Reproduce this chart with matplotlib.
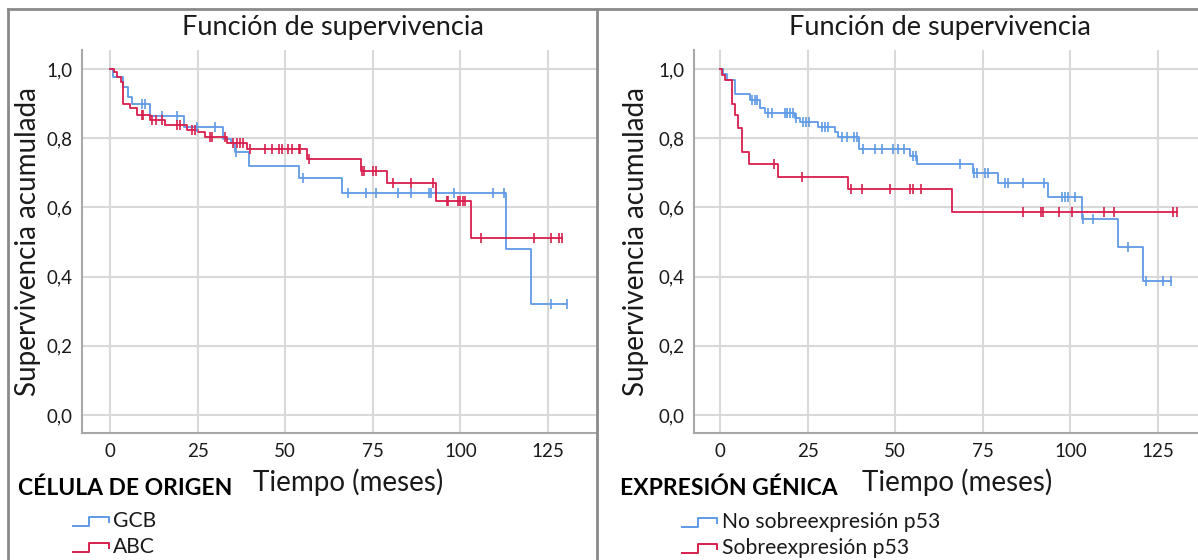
import numpy as np
import matplotlib
matplotlib.use('Agg')
import matplotlib.pyplot as plt
from matplotlib.lines import Line2D
from matplotlib.ticker import FuncFormatter

plt.rcParams['font.family'] = ['Lato', 'DejaVu Sans']

# ---------------- data ----------------
title_text = "Función de supervivencia"
ylabel_text = "Supervivencia acumulada"
xlabel_text = "Tiempo (meses)"
xticks = [0, 25, 50, 75, 100, 125]
yticks = [0.0, 0.2, 0.4, 0.6, 0.8, 1.0]

# Left panel: célula de origen
left_legend_title = "CÉLULA DE ORIGEN"
left_labels = ["GCB", "ABC"]

gcb_t = [0.9, 3.8, 5.2, 6.2, 11.4, 21.1, 32.2, 34.5, 35.7, 39.8, 54.0, 66.1, 113.0, 120.3]
gcb_s = [0.978, 0.949, 0.92, 0.898, 0.865, 0.833, 0.797, 0.785, 0.761, 0.72, 0.684, 0.643, 0.48, 0.321]
gcb_c = [9, 10, 14.7, 19, 24.7, 30, 36, 55, 68, 73, 76, 82.1, 86, 91.1, 91.7, 98.3,
         109.2, 112.4, 126, 130.3]

abc_t = [1.0, 2.0, 3.0, 3.8, 5.7, 7.6, 11.4, 15.7, 21.9, 25.0, 27.1, 33.3, 39.0,
         56.2, 71.5, 79.0, 93.1, 103.0]
abc_s = [0.99, 0.978, 0.963, 0.90, 0.886, 0.867, 0.853, 0.838, 0.824, 0.817, 0.804,
         0.785, 0.768, 0.739, 0.706, 0.67, 0.618, 0.513]
abc_c = [9, 9.5, 12, 13, 14.7, 19, 20, 23.3, 24.3, 28.6, 29, 32.9, 35.2, 36.1, 37, 38,
         40, 44.3, 46.2, 48.1, 49.1, 50.9, 51.9, 53.8, 54.3, 56.9, 71.9, 72.4, 75.2, 76,
         80.9, 85.9, 92.1, 96.1, 96.6, 99.2, 100, 100.8, 101.2, 106, 121, 126, 128.2, 129.1]

# Right panel: expresión génica
right_legend_title = "EXPRESIÓN GÉNICA"
right_labels = ["No sobreexpresión p53", "Sobreexpresión p53"]

nop_t = [0.8, 1.9, 4.3, 8.6, 11.4, 12.8, 21.4, 22.9, 28.1, 32.9, 33.8, 39.8, 54.3,
         56.3, 72.1, 79.4, 93.5, 103.4, 113.7, 120.6]
nop_s = [0.985, 0.968, 0.927, 0.91, 0.886, 0.872, 0.858, 0.848, 0.832, 0.819, 0.803,
         0.769, 0.75, 0.725, 0.70, 0.672, 0.631, 0.566, 0.486, 0.388]
nop_c = [9, 10, 10.7, 13.8, 14.8, 18.6, 19.2, 20, 20.9, 21.6, 23.8, 24.6, 25.5, 29, 30,
         30.7, 34.7, 36.2, 38.1, 39.1, 40.8, 44.3, 46.2, 49.5, 50.9, 52.4, 55.2, 56,
         68.5, 72.5, 73.4, 75.6, 76.6, 81.3, 82.3, 86.6, 92.5, 97.5, 98.5, 99.4, 101.3,
         103.5, 106.5, 116.5, 121.6, 126.5, 128.6]

p53_t = [0.5, 1.4, 3.3, 4.3, 5.2, 6.2, 8.4, 16.5, 36.4, 66.3]
p53_s = [0.984, 0.968, 0.90, 0.867, 0.829, 0.761, 0.725, 0.689, 0.652, 0.588]
p53_c = [15.4, 23.3, 37.3, 40.4, 48.5, 54.2, 55, 57.3, 86.6, 91.5, 92.3, 96.6, 100.5,
         109.6, 112.5, 129.4, 130.5]

BLUE = '#5f9ae6'
RED = '#d81e4c'
TXT = '#1a1a1a'

# ---------------- figure ----------------
W, H = 1198, 560
fig = plt.figure(figsize=(W / 100, H / 100), dpi=100)


def fx(x):
    return x / W


def fy(y):
    return 1 - y / H


def px_axes(x0, y0, x1, y1):
    return fig.add_axes([fx(x0), fy(y1), (x1 - x0) / W, (y1 - y0) / H])


def km(ax, t, s, cens, color):
    t = np.asarray(t, float)
    s = np.asarray(s, float)
    cens = np.asarray(cens, float)
    end = cens.max()
    tt = np.concatenate([[0.0], t, [end]])
    ss = np.concatenate([[1.0], s, [s[-1]]])
    ax.step(tt, ss, where='post', color=color, lw=1.3, zorder=3)
    idx = np.searchsorted(t, cens, side='right')
    sv = np.concatenate([[1.0], s])[idx]
    ax.plot(cens, sv, ls='none', marker='|', ms=7, mew=1.2, color=color, zorder=4)


def style(ax, xlim):
    ax.set_xlim(*xlim)
    ax.set_ylim(-0.052, 1.055)
    ax.set_xticks(xticks)
    ax.set_yticks(yticks)
    ax.yaxis.set_major_formatter(FuncFormatter(lambda v, p: f"{v:.1f}".replace('.', ',')))
    ax.grid(True, color='#d9d9d9', lw=1.5)
    ax.set_axisbelow(True)
    ax.tick_params(length=0, labelsize=13.5, pad=7, colors=TXT)
    for sp in ('top', 'right'):
        ax.spines[sp].set_visible(False)
    for sp in ('left', 'bottom'):
        ax.spines[sp].set_color('#a8a8a8')
        ax.spines[sp].set_linewidth(1.5)
    ax.patch.set_alpha(0)


def legend_icon(x0, x1, yc, color):
    xm = x0 + (x1 - x0) * 0.45
    xs = [x0, xm, xm, x1, x1]
    ys = [yc + 5, yc + 5, yc - 4, yc - 4, yc + 1]
    fig.add_artist(Line2D([fx(v) for v in xs], [fy(v) for v in ys],
                          color=color, lw=1.4, transform=fig.transFigure))


# Left panel
axL = px_axes(82, 50, 597, 433)
km(axL, gcb_t, gcb_s, gcb_c, BLUE)
km(axL, abc_t, abc_s, abc_c, RED)
style(axL, (-8.0, 139.0))

# Right panel
axR = px_axes(694, 50, 1198, 433)
km(axR, nop_t, nop_s, nop_c, BLUE)
km(axR, p53_t, p53_s, p53_c, RED)
style(axR, (-7.42, 136.4))

# Titles and labels
for cx in (333, 940):
    fig.text(fx(cx), fy(28), title_text, ha='center', va='center', fontsize=19.5, color=TXT)
for cx in (28, 636):
    fig.text(fx(cx), fy(242), ylabel_text, ha='center', va='center', rotation=90,
             fontsize=20, color=TXT)
for cx in (348, 957):
    fig.text(fx(cx), fy(482), xlabel_text, ha='center', va='center', fontsize=20, color=TXT)

# Legends
fig.text(fx(18), fy(488), left_legend_title, ha='left', va='center', fontsize=16.5,
         fontweight='bold', color='black')
fig.text(fx(620), fy(488), right_legend_title, ha='left', va='center', fontsize=16.5,
         fontweight='bold', color='black')

for i, (lab, col) in enumerate(zip(left_labels, [BLUE, RED])):
    yc = 521 + 26 * i
    legend_icon(73, 109, yc, col)
    fig.text(fx(113), fy(yc), lab, ha='left', va='center', fontsize=15.2, color=TXT)

for i, (lab, col) in enumerate(zip(right_labels, [BLUE, RED])):
    yc = 522 + 26 * i
    legend_icon(682, 717, yc, col)
    fig.text(fx(722), fy(yc), lab, ha='left', va='center', fontsize=15.2, color=TXT)

# Panel frames
frame = '#8a8a8a'
fig.add_artist(Line2D([fx(8), fx(1198)], [fy(9), fy(9)], color=frame, lw=2,
                      transform=fig.transFigure))
fig.add_artist(Line2D([fx(8), fx(8)], [fy(9), fy(560)], color=frame, lw=2,
                      transform=fig.transFigure))
fig.add_artist(Line2D([fx(597), fx(597)], [fy(9), fy(560)], color=frame, lw=2,
                      transform=fig.transFigure))

fig.savefig('out.png', dpi=100)
